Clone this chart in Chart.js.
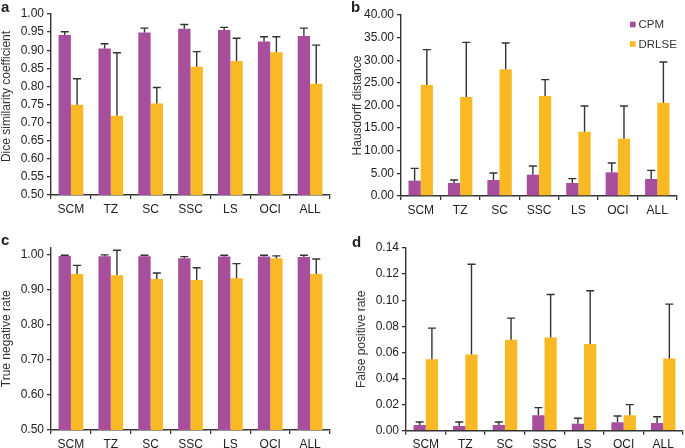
<!DOCTYPE html>
<html>
<head>
<meta charset="utf-8">
<script src="https://cdn.jsdelivr.net/npm/chart.js@4.4.1/dist/chart.umd.min.js"></script>
<style>
  body { margin: 0; background: #fff; }
  #wrap { position: relative; width: 685px; height: 448px; overflow: hidden; }
  .panel { position: absolute; }
  .panel canvas { display: block; }
</style>
</head>
<body>
<div id="wrap">
  <div class="panel" style="left:0;top:0"><canvas id="chartA" width="340" height="224"></canvas></div>
  <div class="panel" style="left:340px;top:0"><canvas id="chartB" width="345" height="224"></canvas></div>
  <div class="panel" style="left:0;top:224px"><canvas id="chartC" width="340" height="224"></canvas></div>
  <div class="panel" style="left:340px;top:224px"><canvas id="chartD" width="345" height="224"></canvas></div>
</div>
<script>
const categories = ["SCM", "TZ", "SC", "SSC", "LS", "OCI", "ALL"];
const seriesNames = ["CPM", "DRLSE"];

// a - Dice similarity coefficient
const diceCPM = [0.942, 0.905, 0.949, 0.959, 0.956, 0.924, 0.939];
const diceCPMErr = [0.009, 0.013, 0.012, 0.012, 0.007, 0.013, 0.022];
const diceDRLSE = [0.749, 0.719, 0.753, 0.854, 0.870, 0.894, 0.807];
const diceDRLSEErr = [0.072, 0.174, 0.044, 0.042, 0.063, 0.043, 0.107];
const diceTicks = [0.50, 0.55, 0.60, 0.65, 0.70, 0.75, 0.80, 0.85, 0.90, 0.95, 1.00];

// b - Hausdorff distance
const hausCPM = [3.39, 2.87, 3.54, 4.71, 2.87, 5.23, 3.76];
const hausCPMErr = [2.72, 0.67, 1.54, 1.92, 0.96, 2.06, 1.91];
const hausDRLSE = [24.53, 21.88, 27.99, 22.10, 14.22, 12.67, 20.63];
const hausDRLSEErr = [7.81, 12.08, 5.82, 3.61, 5.67, 7.22, 8.98];
const hausTicks = [0, 5, 10, 15, 20, 25, 30, 35, 40];

// c - True negative rate
const tnrCPM = [0.997, 0.996, 0.996, 0.990, 0.995, 0.995, 0.994];
const tnrCPMErr = [0.002, 0.004, 0.003, 0.005, 0.004, 0.004, 0.005];
const tnrDRLSE = [0.945, 0.942, 0.931, 0.928, 0.933, 0.990, 0.945];
const tnrDRLSEErr = [0.025, 0.071, 0.017, 0.035, 0.042, 0.007, 0.043];
const tnrTicks = [0.50, 0.60, 0.70, 0.80, 0.90, 1.00];

// d - False positive rate
const fprCPM = [0.0044, 0.0036, 0.0044, 0.0118, 0.0054, 0.0064, 0.0059];
const fprCPMErr = [0.0023, 0.0031, 0.0023, 0.0059, 0.0041, 0.0049, 0.0048];
const fprDRLSE = [0.0548, 0.0584, 0.0696, 0.0714, 0.0665, 0.0118, 0.0553];
const fprDRLSEErr = [0.0238, 0.0691, 0.0167, 0.0330, 0.0407, 0.0082, 0.0417];
const fprTicks = [0, 0.02, 0.04, 0.06, 0.08, 0.10, 0.12, 0.14];

const PURPLE = "#a74f9d";
const ORANGE = "#f8b925";
const INK = "#333333";
const FONT = "'Liberation Sans', Arial, Helvetica, sans-serif";

// upper-only error bars with a cap
const errorBars = {
  id: "errorBars",
  afterDatasetsDraw(chart) {
    const ctx = chart.ctx;
    const y = chart.scales.y;
    ctx.save();
    ctx.strokeStyle = INK;
    ctx.lineWidth = 1.4;
    chart.data.datasets.forEach((ds, i) => {
      const meta = chart.getDatasetMeta(i);
      meta.data.forEach((bar, j) => {
        const top = y.getPixelForValue(ds.data[j] + ds.errors[j]);
        ctx.beginPath();
        ctx.moveTo(bar.x, bar.y);
        ctx.lineTo(bar.x, top);
        ctx.moveTo(bar.x - 4, top);
        ctx.lineTo(bar.x + 4, top);
        ctx.stroke();
      });
    });
    ctx.restore();
  }
};

// rotated y title + panel letter + optional legend
const decor = {
  id: "decor",
  afterDraw(chart, args, opts) {
    const ctx = chart.ctx;
    const area = chart.chartArea;
    ctx.save();
    ctx.fillStyle = "#222";
    ctx.font = "bold 15px " + FONT;
    ctx.textAlign = "left";
    ctx.textBaseline = "alphabetic";
    ctx.fillText(opts.letter, opts.letterX, opts.letterY);

    ctx.font = "12px " + FONT;
    ctx.fillStyle = INK;
    ctx.translate(opts.titleX, (area.top + area.bottom) / 2 + (opts.titleShift || 0));
    ctx.rotate(-Math.PI / 2);
    ctx.textAlign = "center";
    ctx.textBaseline = "middle";
    ctx.fillText(opts.title, 0, 0);
    ctx.restore();

    if (opts.legend) {
      ctx.save();
      ctx.font = "11.5px " + FONT;
      ctx.textBaseline = "middle";
      ctx.textAlign = "left";
      chart.data.datasets.forEach((ds, i) => {
        const ly = opts.legend.y + i * 19.5;
        ctx.fillStyle = ds.backgroundColor;
        ctx.fillRect(opts.legend.x, ly - 2.8, 5.6, 5.6);
        ctx.fillStyle = INK;
        ctx.fillText(ds.label, opts.legend.x + 8.5, ly + 0.5);
      });
      ctx.restore();
    }
  }
};

function makeChart(id, cfg) {
  const datasets = [
    { label: seriesNames[0], data: cfg.cpm, errors: cfg.cpmErr, backgroundColor: PURPLE },
    { label: seriesNames[1], data: cfg.drlse, errors: cfg.drlseErr, backgroundColor: ORANGE }
  ];
  return new Chart(document.getElementById(id), {
    type: "bar",
    data: { labels: categories, datasets },
    plugins: [errorBars, decor],
    options: {
      responsive: false,
      animation: false,
      layout: { padding: { top: cfg.top, right: cfg.right, left: 0, bottom: 0 } },
      datasets: { bar: { categoryPercentage: 0.62, barPercentage: 1.0 } },
      plugins: {
        legend: { display: false },
        tooltip: { enabled: false },
        decor: cfg.decor
      },
      scales: {
        x: {
          grid: { display: true, drawOnChartArea: false, drawTicks: true, tickLength: 4, color: INK, lineWidth: 1.3, offset: true },
          border: { display: true, color: INK, width: 1.4 },
          ticks: { color: "#222", font: { family: FONT, size: 12 }, padding: 3, maxRotation: 0 },
          afterFit: s => { s.height = cfg.xHeight; }
        },
        y: {
          min: cfg.min,
          max: cfg.max,
          grid: { display: true, drawOnChartArea: false, drawTicks: true, tickLength: 4, color: INK, lineWidth: 1.3 },
          border: { display: true, color: INK, width: 1.4 },
          ticks: { color: "#222", font: { family: FONT, size: 12 }, padding: 3, callback: v => Number(v).toFixed(2) },
          afterBuildTicks: s => { s.ticks = cfg.ticks.map(v => ({ value: v })); },
          afterFit: s => { s.width = cfg.yWidth; }
        }
      }
    }
  });
}

makeChart("chartA", {
  cpm: diceCPM, cpmErr: diceCPMErr, drlse: diceDRLSE, drlseErr: diceDRLSEErr,
  min: 0.5, max: 1.0, ticks: diceTicks,
  top: 14, right: 10, xHeight: 29, yWidth: 51,
  decor: { letter: "a", letterX: 1, letterY: 12, title: "Dice similarity coefficient", titleX: 7, titleShift: -8 }
});

makeChart("chartB", {
  cpm: hausCPM, cpmErr: hausCPMErr, drlse: hausDRLSE, drlseErr: hausDRLSEErr,
  min: 0, max: 40, ticks: hausTicks,
  top: 15, right: 8, xHeight: 28, yWidth: 61,
  decor: { letter: "b", letterX: 11, letterY: 12, title: "Hausdorff distance", titleX: 17.5, legend: { x: 290, y: 24.5 } }
});

makeChart("chartC", {
  cpm: tnrCPM, cpmErr: tnrCPMErr, drlse: tnrDRLSE, drlseErr: tnrDRLSEErr,
  min: 0.5, max: 1.021, ticks: tnrTicks,
  top: 23.5, right: 10, xHeight: 18, yWidth: 51,
  decor: { letter: "c", letterX: 1, letterY: 21, title: "True negative rate", titleX: 7 }
});

makeChart("chartD", {
  cpm: fprCPM, cpmErr: fprCPMErr, drlse: fprDRLSE, drlseErr: fprDRLSEErr,
  min: 0, max: 0.14, ticks: fprTicks,
  top: 24, right: 2, xHeight: 17.3, yWidth: 66,
  decor: { letter: "d", letterX: 12, letterY: 23, title: "False positive rate", titleX: 21.5 }
});
</script>
</body>
</html>
